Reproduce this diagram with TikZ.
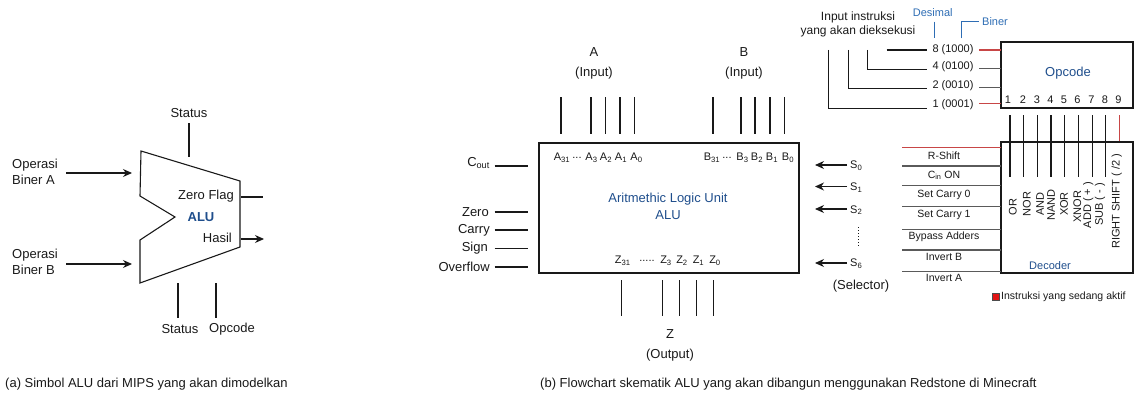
\documentclass[tikz,border=0pt]{standalone}
\usepackage{fontspec}
\setmainfont{Liberation Sans}
\usetikzlibrary{arrows.meta}
\definecolor{txt}{RGB}{25,25,25}
\definecolor{bluetxt}{RGB}{31,78,140}
\definecolor{bluelbl}{RGB}{46,109,180}
\definecolor{redln}{RGB}{200,70,70}
\definecolor{grayln}{RGB}{90,90,90}
\definecolor{legred}{RGB}{225,20,20}
\tikzset{
  lbl/.style={font=\fontsize{13}{16}\selectfont, text=txt, inner sep=0pt},
  sml/.style={font=\fontsize{11}{13}\selectfont, text=txt, inner sep=0pt},
  tiny/.style={font=\fontsize{10.5}{12}\selectfont, text=txt, inner sep=0pt},
  ln/.style={draw=txt, line width=1.1pt},
  gln/.style={draw=grayln, line width=1.1pt},
  rln/.style={draw=redln, line width=1.1pt},
  bln/.style={draw=bluelbl, line width=0.9pt},
  arr/.style={draw=txt, line width=1.1pt, -{Stealth[length=9pt,width=8pt]}},
  rot/.style={font=\fontsize{11}{13}\selectfont, text=txt, inner sep=0pt, rotate=90},
}
\begin{document}
\begin{tikzpicture}[x=1pt,y=-1pt]
\useasboundingbox (0,0) rectangle (1140,396);

% ---------------- (a) ALU symbol ----------------
\draw[ln] (141,151) -- (240,181) -- (240,247) -- (140,283) -- (140,240) -- (175,217) -- (140,196) -- cycle;
\node[font=\fontsize{13}{16}\selectfont\bfseries, text=bluetxt] (alua) at (201,217) {ALU};
\node[lbl] (sttop) at (189,113) {Status};
\coordinate (sttopa) at (189,123); \coordinate (sttopb) at (189,157);
\draw[ln] (sttopa) -- (sttopb);
\node[lbl, align=left, anchor=west] (opa) at (12,172) {Operasi\\Biner A};
\node[lbl, align=left, anchor=west] (opb) at (12,262) {Operasi\\Biner B};
\coordinate (opaS) at (66,173); \coordinate (opaE) at (132,173);
\coordinate (opbS) at (66,264); \coordinate (opbE) at (132,264);
\draw[arr] (opaS) -- (opaE);
\draw[arr] (opbS) -- (opbE);
\node[lbl, anchor=east] (zf) at (234,196) {Zero Flag};
\coordinate (zfS) at (241,197); \coordinate (zfE) at (263,197);
\draw[ln] (zfS) -- (zfE);
\node[lbl, anchor=east] (hasil) at (232,238) {Hasil};
\coordinate (hsS) at (241,239); \coordinate (hsE) at (264,239);
\draw[arr] (hsS) -- (hsE);
\coordinate (sb1) at (178,283); \coordinate (sb2) at (178,318);
\coordinate (oc1) at (216,283); \coordinate (oc2) at (216,318);
\draw[ln] (sb1) -- (sb2);
\draw[ln] (oc1) -- (oc2);
\node[lbl] (stbot) at (180,329) {Status};
\node[lbl] (opcb) at (232,329) {Opcode};

% ---------------- (b) main ALU box ----------------
\draw[ln] (539,143) rectangle (799,273);
\node[lbl, text=bluetxt, align=center, font=\fontsize{13}{17}\selectfont] (aluname) at (668,206) {Aritmethic Logic Unit\\ALU};
\node[lbl, align=center, font=\fontsize{13}{20}\selectfont] (ain) at (594,63) {A\\(Input)};
\node[lbl, align=center, font=\fontsize{13}{20}\selectfont] (bin) at (744,63) {B\\(Input)};
\node[lbl, align=center, font=\fontsize{13}{20}\selectfont] (zout) at (670,345) {Z\\(Output)};

\foreach \x in {561,591,605.5,620,634.5,713,741,755,770,784.5}
  \draw[ln] (\x,97) -- (\x,134);
\foreach \x in {621.7,662.3,679.3,696.3,713.3}
  \draw[ln] (\x,280) -- (\x,316);

\node[sml] (a31) at (562,157.5) {A\textsubscript{31}};
\node[sml] (adots) at (577,157.5) {...};
\node[sml] (a3) at (591.5,157.5) {A\textsubscript{3}};
\node[sml] (a2) at (606,157.5) {A\textsubscript{2}};
\node[sml] (a1) at (621,157.5) {A\textsubscript{1}};
\node[sml] (a0) at (636.5,157.5) {A\textsubscript{0}};
\node[sml] (b31) at (712,157.5) {B\textsubscript{31}};
\node[sml] (bdots) at (727,157.5) {...};
\node[sml] (b3) at (742.5,157.5) {B\textsubscript{3}};
\node[sml] (b2) at (757,157.5) {B\textsubscript{2}};
\node[sml] (b1) at (772,157.5) {B\textsubscript{1}};
\node[sml] (b0) at (788,157.5) {B\textsubscript{0}};
\node[sml] (z31) at (622.7,260.5) {Z\textsubscript{31}};
\node[sml] (zdots) at (647,260.5) {.....};
\node[sml] (z3) at (666,260.5) {Z\textsubscript{3}};
\node[sml] (z2) at (682,260.5) {Z\textsubscript{2}};
\node[sml] (z1) at (698.5,260.5) {Z\textsubscript{1}};
\node[sml] (z0) at (715,260.5) {Z\textsubscript{0}};

% left flags
\node[lbl, anchor=east] (cout) at (490,163) {C\textsubscript{out}};
\node[lbl, anchor=east] (zero) at (489,212) {Zero};
\node[lbl, anchor=east] (carry) at (490,230) {Carry};
\node[lbl, anchor=east] (sign) at (488,248) {Sign};
\node[lbl, anchor=east] (ovf) at (490,267) {Overflow};
\foreach \y in {166,212,230,248.5,267}
  \draw[ln] (494.5,\y) -- (528,\y);

% selector
\foreach \y/\n/\nm in {165/0/s0,186.5/1/s1,209/2/s2,263/6/s6}{
  \node[sml, anchor=west] (\nm) at (850,\y+1) {S\textsubscript{\n}};
  \draw[arr] (\nm.west) ++(-3,-1) -- (815,\y);
}
\coordinate (dt1) at (858,227); \coordinate (dt2) at (858,248);
\draw[draw=txt, line width=1pt, dotted] (dt1) -- (dt2);
\node[lbl] (sel) at (861,286) {(Selector)};

% ---------------- opcode ----------------
\node[font=\fontsize{12}{14.4}\selectfont, text=txt, inner sep=0pt, align=center] (inpins) at (858,24.5) {Input instruksi\\yang akan dieksekusi};
\node[sml, text=bluelbl] (desimal) at (932.7,12.5) {Desimal};
\node[sml, text=bluelbl, anchor=west] (biner) at (982,21.5) {Biner};
\coordinate (ds1) at (934.3,21.7); \coordinate (ds2) at (934.3,38.3);
\draw[bln] (ds1) -- (ds2);
\coordinate (bn1) at (961.7,38.3); \coordinate (bn2) at (961.7,21.7); \coordinate (bn3) at (979,21.7);
\draw[bln] (bn1) -- (bn2) -- (bn3);

\node[sml] (t8) at (953,49.5) {8 (1000)};
\node[sml] (t4) at (953,67) {4 (0100)};
\node[sml] (t2) at (953,86) {2 (0010)};
\node[sml] (t1) at (953,105) {1 (0001)};

\draw[ln] (886.7,50) -- (926.7,50);
\draw[ln] (867.3,50) -- (867.3,69.3) -- (926.7,69.3);
\draw[ln] (848.7,50) -- (848.7,88.3) -- (926.7,88.3);
\draw[ln] (828.3,50) -- (828.3,108.3) -- (926.7,108.3);

\draw[ln] (1001,42) rectangle (1133,108);
\node[lbl, text=bluetxt] (opcode) at (1068,73) {Opcode};
\coordinate (opw8) at (1001,50); \coordinate (opw4) at (1001,68.3);
\coordinate (opw2) at (1001,87.3); \coordinate (opw1) at (1001,103.3);
\draw[rln] (979,50) -- (opw8);
\draw[gln] (979,68.3) -- (opw4);
\draw[gln] (979,87.3) -- (opw2);
\draw[rln] (979,103.3) -- (opw1);

\foreach \x/\n in {1008/1,1023/2,1037/3,1050.5/4,1064/5,1077.5/6,1091.5/7,1105/8,1118.5/9}
  \node[sml] (num\n) at (\x,99.5) {\n};

\foreach \x in {1010,1023.3,1037.3,1051,1064.3,1078.3,1092.3,1105.7}
  \draw[ln] (\x,115) -- (\x,177);
\draw[rln] (1119.3,115) -- (1119.3,143);

% ---------------- decoder ----------------
\draw[ln] (1001,142) rectangle (1133,273);
\node[sml, text=bluetxt] (decoder) at (1050,266) {Decoder};
\node[rot] (r1) at (1012.7,207) {OR};
\node[rot] (r2) at (1026.7,204) {NOR};
\node[rot] (r3) at (1040,204) {AND};
\node[rot] (r4) at (1051,205) {NAND};
\node[rot] (r5) at (1064,204) {XOR};
\node[rot] (r6) at (1077.3,206.5) {XNOR};
\node[rot] (r7) at (1088.3,205) {ADD ( + )};
\node[rot] (r8) at (1100,204.5) {SUB ( - )};
\node[rot] (r9) at (1116.7,201.3) {RIGHT SHIFT ( /2 )};

\draw[rln] (902,147.3) -- (1001,147.3);
\foreach \y in {166,185.5,206.7,229.3,250,271.7}
  \draw[gln] (902,\y) -- (1001,\y);
\node[tiny] (l1) at (944,156) {R-Shift};
\node[tiny] (l2) at (944,175.5) {C\textsubscript{in} ON};
\node[tiny] (l3) at (944,195) {Set Carry 0};
\node[tiny] (l4) at (944,215) {Set Carry 1};
\node[tiny] (l5) at (944,236.7) {Bypass Adders};
\node[tiny] (l6) at (944,257.3) {Invert B};
\node[tiny] (l7) at (944,278.3) {Invert A};

% legend
\draw[fill=legred, draw=black!70, line width=0.5pt] (992,293) rectangle (999,300);
\node[tiny, anchor=west] (leg) at (1001,297) {Instruksi yang sedang aktif};

% captions
\node[lbl, anchor=west] (capa) at (5,384) {(a) Simbol ALU dari MIPS yang akan dimodelkan};
\node[lbl, anchor=west] (capb) at (540,384) {(b) Flowchart skematik ALU yang akan dibangun menggunakan Redstone di Minecraft};
\end{tikzpicture}
\end{document}
